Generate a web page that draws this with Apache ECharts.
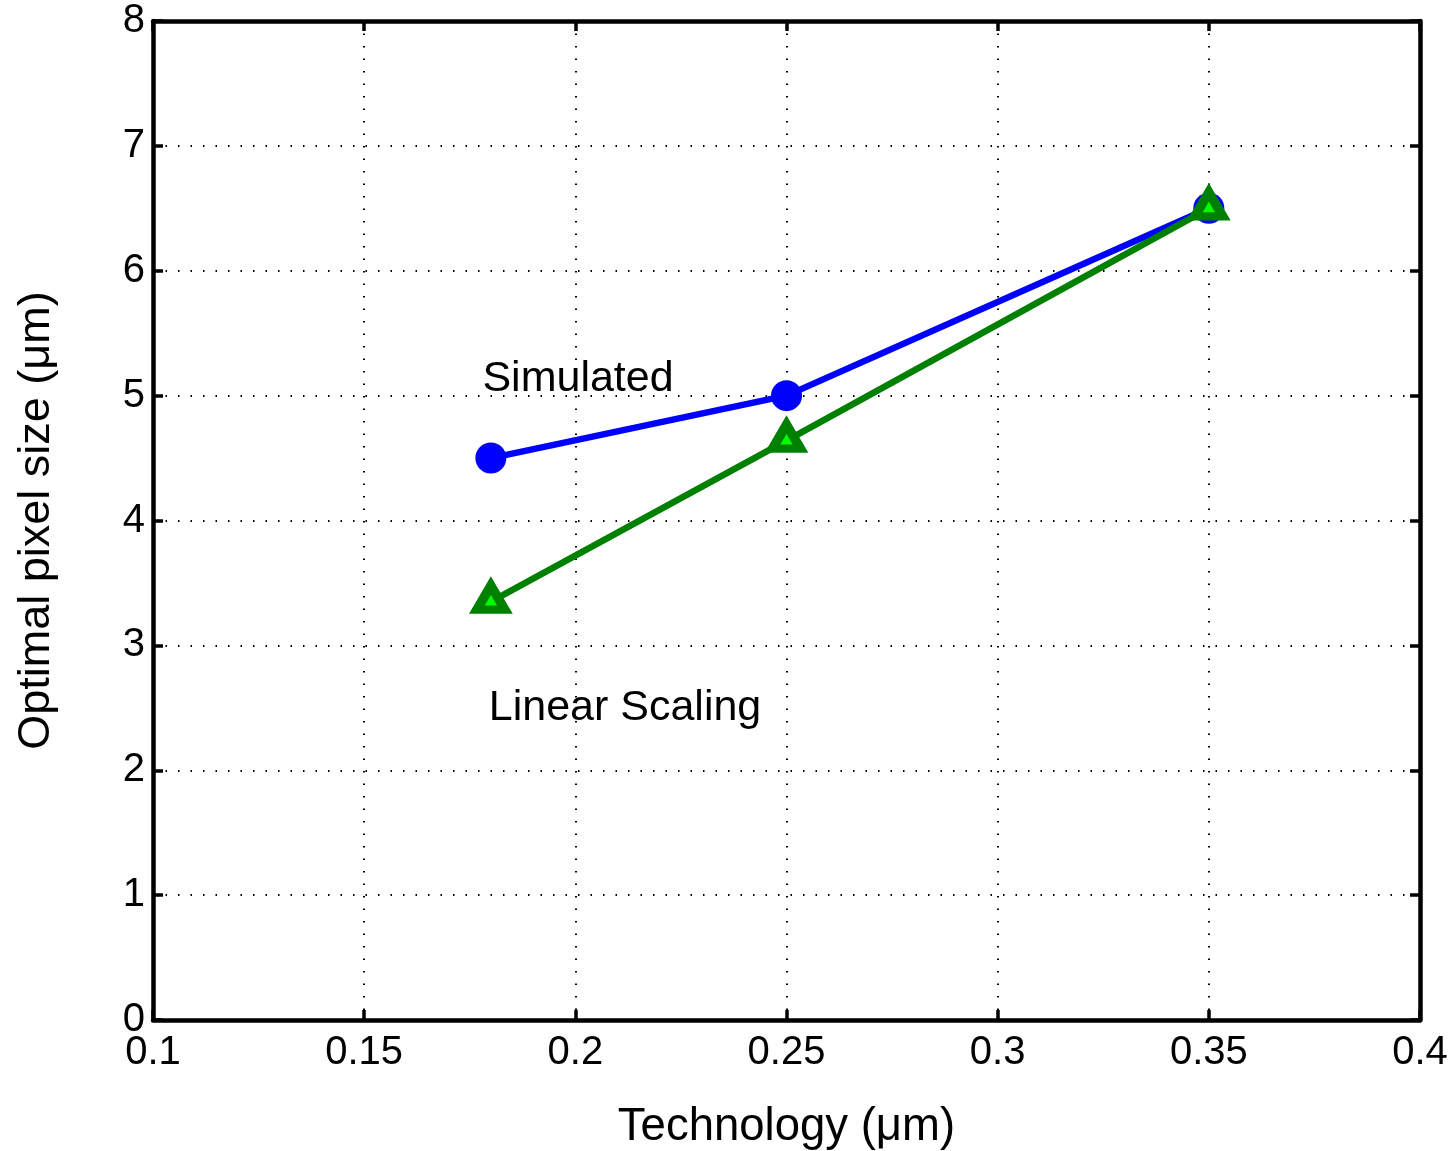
<!DOCTYPE html>
<html>
<head>
<meta charset="utf-8">
<script src="https://cdn.jsdelivr.net/npm/echarts@6/dist/echarts.min.js"></script>
<style>
  html, body { margin: 0; padding: 0; background: #fff; }
  #chart { width: 1455px; height: 1151px; }
</style>
</head>
<body>
<div id="chart"></div>
<script>
// Process technology nodes (µm)
const technology = [0.18, 0.25, 0.35];
// Optimal pixel size from simulation (µm)
const simulated = [4.5, 5.0, 6.5];
// Optimal pixel size under linear scaling (µm)
const linearScaling = [3.35, 4.64, 6.5];

// Text annotations: [x, y, text]
const annotations = [
  [0.178, 5.13, 'Simulated'],
  [0.1795, 2.5, 'Linear Scaling']
];

const FONT = '"Liberation Sans", Arial, Helvetica, sans-serif';

function pairs(xs, ys) {
  return xs.map((x, i) => [x, ys[i]]);
}

const frameAxisLine = { show: true, onZero: false, lineStyle: { color: '#000', width: 4.5 } };
const frameTick = { show: true, inside: true, length: 10, lineStyle: { color: '#000', width: 3.5 } };
const gridLine = { show: true, lineStyle: { color: '#000', width: 2, type: [1.5, 11] } };

const chart = echarts.init(document.getElementById('chart'), null, { renderer: 'canvas' });

chart.setOption({
  backgroundColor: '#fff',
  animation: false,
  grid: {
    left: 153, right: 35, top: 21, bottom: 131,
    containLabel: false, outerBoundsMode: 'none'
  },
  xAxis: [
    {
      type: 'value', min: 0.1, max: 0.4, interval: 0.05, position: 'bottom',
      name: 'Technology (μm)', nameLocation: 'middle', nameGap: 84,
      nameTextStyle: { fontFamily: FONT, fontSize: 45.5, color: '#000' },
      axisLine: frameAxisLine, axisTick: frameTick, splitLine: gridLine,
      axisLabel: {
        fontFamily: FONT, fontSize: 40, color: '#000', margin: 13,
        formatter: v => String(+v.toFixed(2))
      }
    },
    {
      type: 'value', min: 0.1, max: 0.4, interval: 0.05, position: 'top',
      axisLine: frameAxisLine, axisTick: frameTick,
      splitLine: { show: false }, axisLabel: { show: false }
    }
  ],
  yAxis: [
    {
      type: 'value', min: 0, max: 8, interval: 1, position: 'left',
      name: 'Optimal pixel size (μm)', nameLocation: 'middle', nameGap: 94, nameRotate: 90,
      nameTextStyle: { fontFamily: FONT, fontSize: 45, color: '#000' },
      axisLine: frameAxisLine, axisTick: frameTick, splitLine: gridLine,
      axisLabel: { fontFamily: FONT, fontSize: 40, color: '#000', margin: 8 }
    },
    {
      type: 'value', min: 0, max: 8, interval: 1, position: 'right',
      axisLine: frameAxisLine, axisTick: frameTick,
      splitLine: { show: false }, axisLabel: { show: false }
    }
  ],
  series: [
    {
      name: 'Simulated', type: 'line', data: pairs(technology, simulated),
      lineStyle: { color: '#0000ff', width: 6.5 },
      symbol: 'circle', symbolSize: 31,
      itemStyle: { color: '#0000ff', borderWidth: 0 },
      z: 3
    },
    {
      name: 'Linear Scaling', type: 'line', data: pairs(technology, linearScaling),
      lineStyle: { color: '#008000', width: 6.5 },
      symbol: 'triangle', symbolSize: [28, 24], symbolOffset: [0, -4],
      itemStyle: { color: '#00ff00', borderColor: '#008000', borderWidth: 9 },
      z: 4
    },
    {
      name: 'annotations', type: 'scatter', data: annotations,
      symbolSize: 0, silent: true,
      itemStyle: { opacity: 1 },
      label: {
        show: true, position: 'right', distance: 0,
        formatter: p => p.value[2],
        fontFamily: FONT, fontSize: 43, color: '#000'
      },
      z: 5
    }
  ]
});
</script>
</body>
</html>
